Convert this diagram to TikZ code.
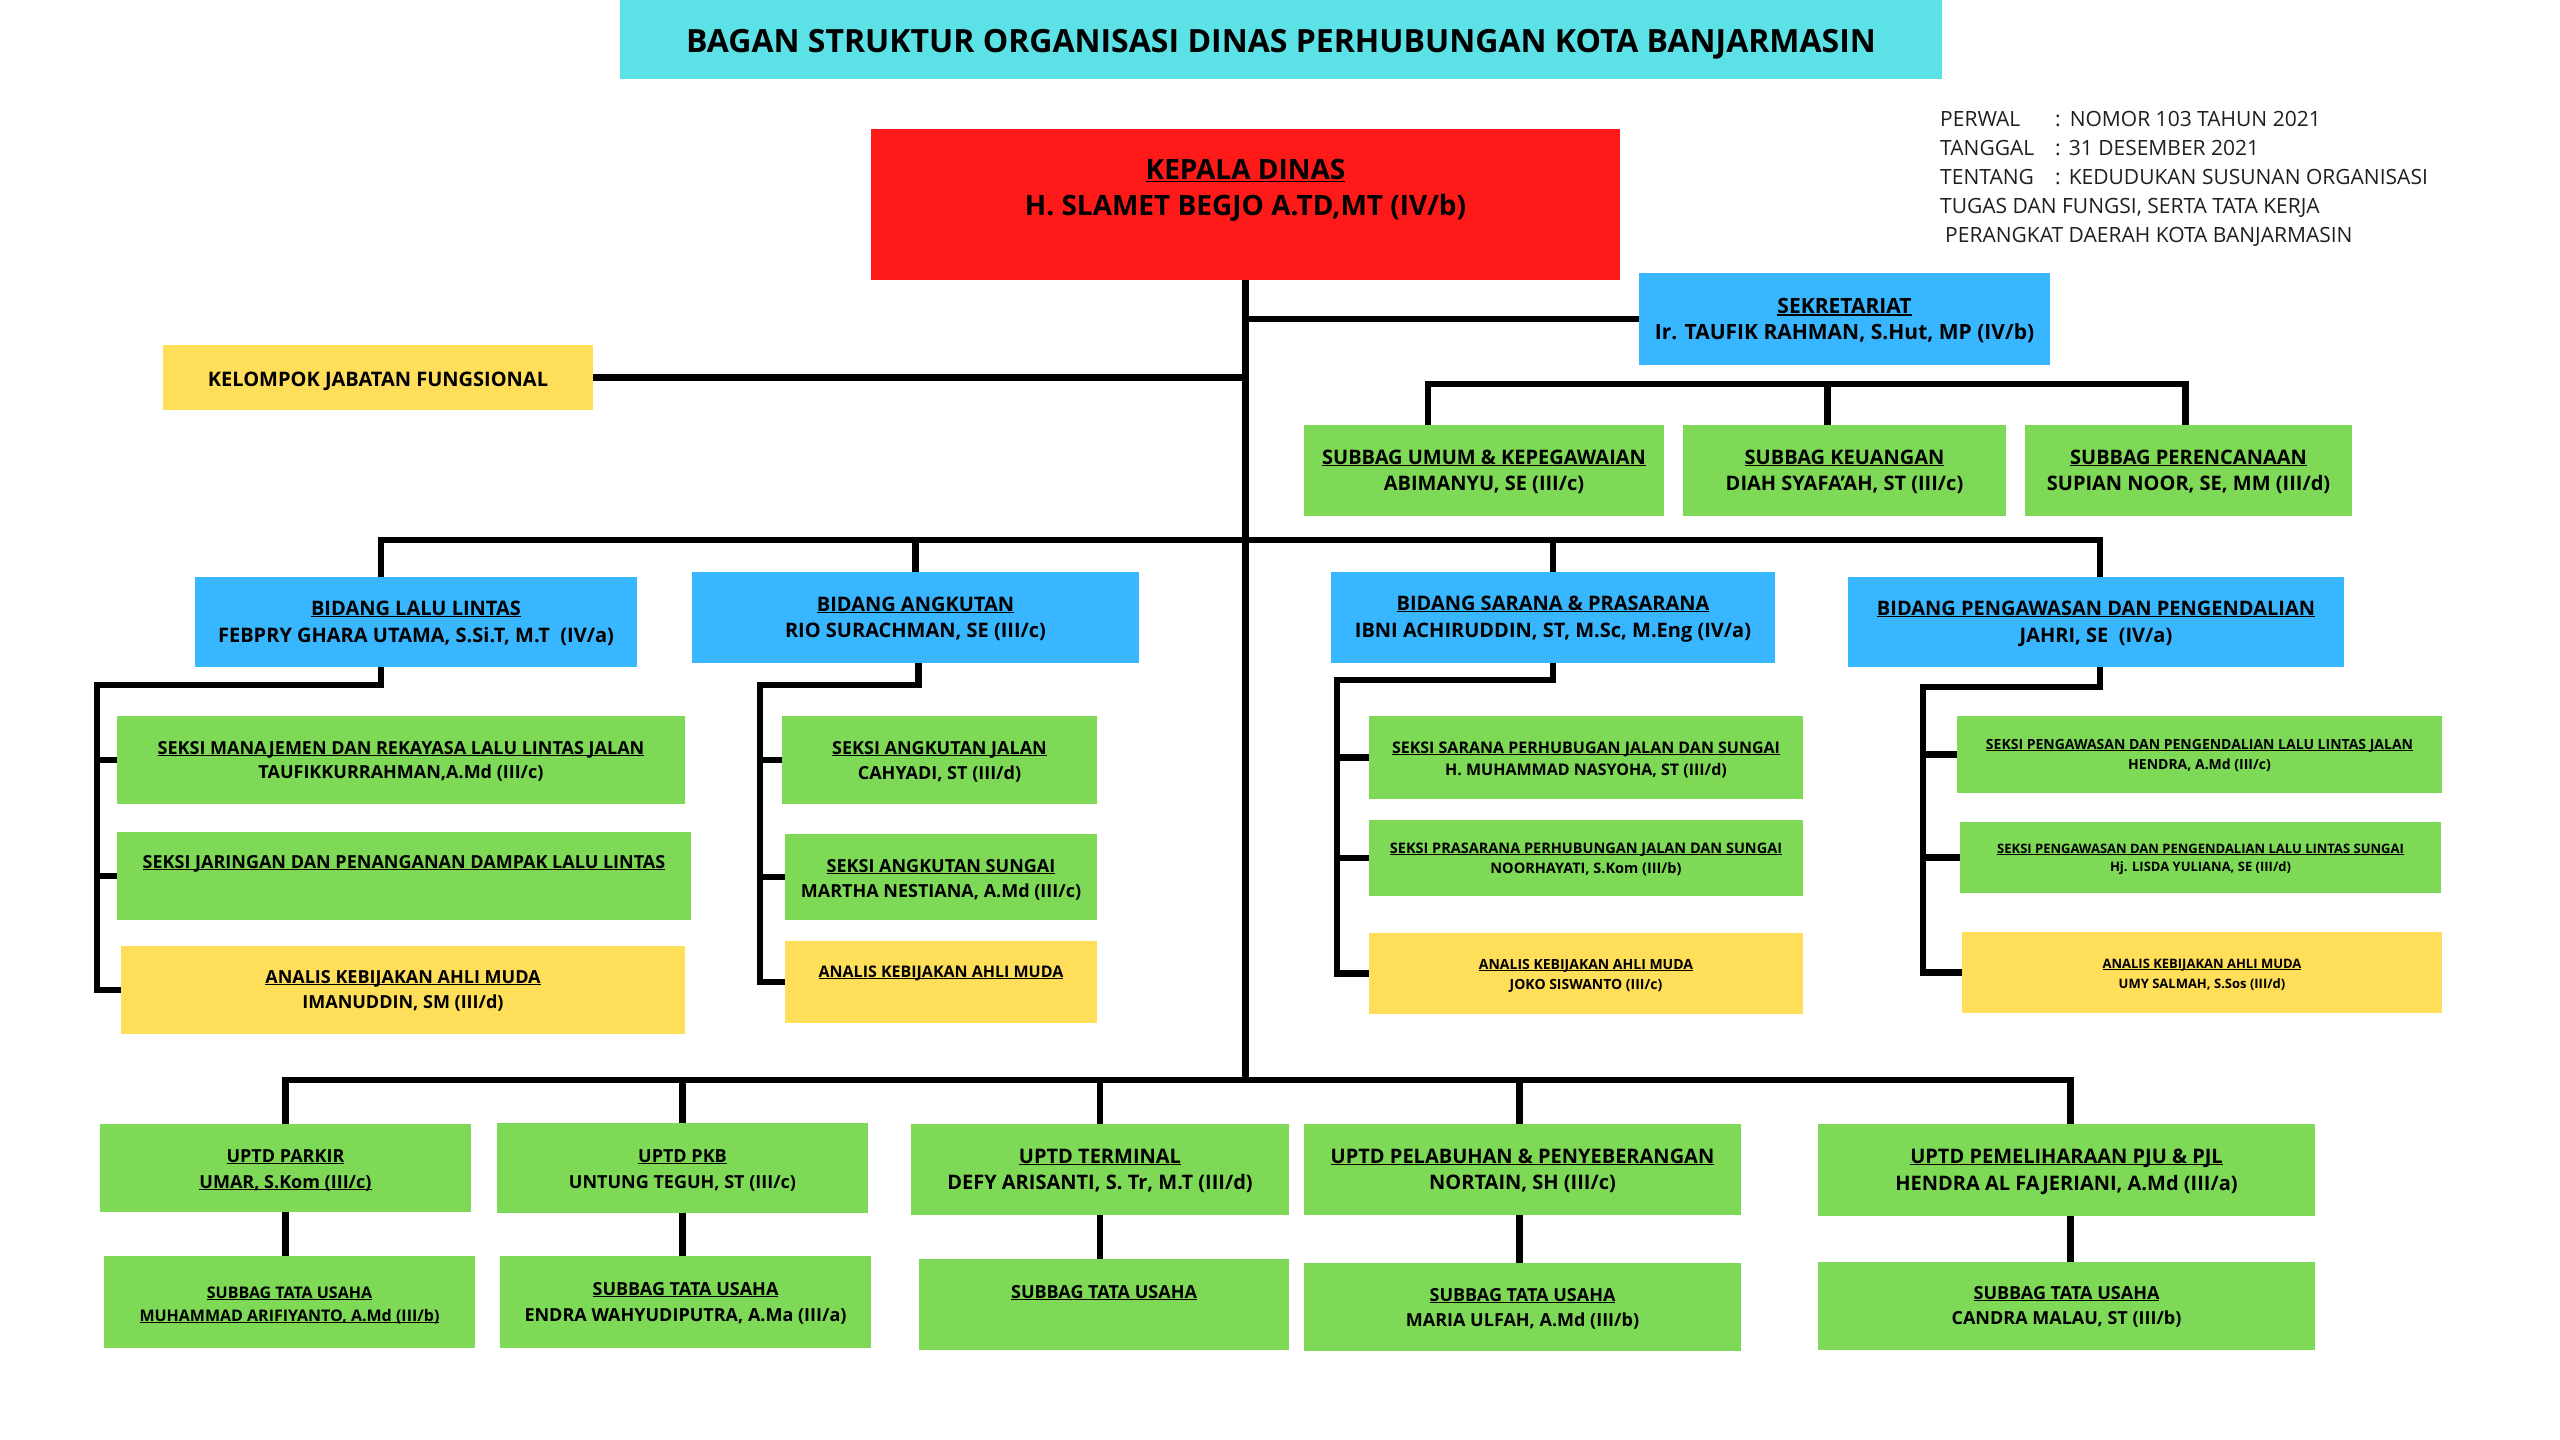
\documentclass[tikz,border=0pt]{standalone}
\usepackage{fontspec}
\setmainfont{Open Sans}
\usetikzlibrary{calc}
\definecolor{cTitle}{HTML}{5CE1E6}
\definecolor{cRed}{HTML}{FF1A1A}
\definecolor{cBlue}{HTML}{38B6FF}
\definecolor{cGreen}{HTML}{7ED957}
\definecolor{cYellow}{HTML}{FFDE59}
\newcommand{\ulx}[1]{\leavevmode\setbox0=\hbox{#1}\rlap{\rule[-0.12em]{\wd0}{0.065em}}\box0}
\tikzset{
  boxst/.style={inner sep=0pt, outer sep=0pt, text=black},
  conn/.style={line width=6.5pt, line join=miter, draw=black}
}
% name, x1, y1, x2, y2, colour, {size}{skip}, first baseline y, text
\newcommand{\bx}[9]{%
  \node[boxst, fill=#6, anchor=north west] (#1) at (#2,#3)
  {\parbox[t][\dimexpr#5pt-#3pt\relax][t]{\dimexpr#4pt-#2pt\relax}{\centering\fontsize#7\selectfont\bfseries\rule{0pt}{\dimexpr#8pt-#3pt\relax}#9\par}};}
\begin{document}
\begin{tikzpicture}[x=1pt,y=-1pt]
\useasboundingbox (0,0) rectangle (2560,1440);
\fill[white] (0,0) rectangle (2560,1440);

% ---- boxes
\bx{title}{620}{0}{1942}{79}{cTitle}{{32pt}{38pt}}{52}{BAGAN STRUKTUR ORGANISASI DINAS PERHUBUNGAN KOTA BANJARMASIN}
\bx{kepala}{871}{129}{1620}{280}{cRed}{{28pt}{36pt}}{179}{\ulx{KEPALA DINAS}\\H. SLAMET BEGJO A.TD,MT (IV/b)}
\bx{sek}{1639}{273}{2050}{365}{cBlue}{{21pt}{26pt}}{313}{\ulx{SEKRETARIAT}\\Ir. TAUFIK RAHMAN, S.Hut, MP (IV/b)}
\bx{kjf}{163}{345}{593}{410}{cYellow}{{20pt}{24pt}}{386}{KELOMPOK JABATAN FUNGSIONAL}

\bx{umum}{1304}{425}{1664}{516}{cGreen}{{20pt}{26pt}}{464}{\ulx{SUBBAG UMUM \& KEPEGAWAIAN}\\ABIMANYU, SE (III/c)}
\bx{keu}{1683}{425}{2006}{516}{cGreen}{{20pt}{26pt}}{464}{\ulx{SUBBAG KEUANGAN}\\DIAH SYAFA'AH, ST (III/c)}
\bx{renc}{2025}{425}{2352}{516}{cGreen}{{20pt}{26pt}}{464}{\ulx{SUBBAG PERENCANAAN}\\SUPIAN NOOR, SE, MM (III/d)}

\bx{bll}{195}{577}{637}{667}{cBlue}{{20pt}{27pt}}{615}{\ulx{BIDANG LALU LINTAS}\\FEBPRY GHARA UTAMA, S.Si.T, M.T\ \ (IV/a)}
\bx{ba}{692}{572}{1139}{663}{cBlue}{{20pt}{26pt}}{611}{\ulx{BIDANG ANGKUTAN}\\RIO SURACHMAN, SE (III/c)}
\bx{bs}{1331}{572}{1775}{663}{cBlue}{{20pt}{27pt}}{610}{\ulx{BIDANG SARANA \& PRASARANA}\\IBNI ACHIRUDDIN, ST, M.Sc, M.Eng (IV/a)}
\bx{bp}{1848}{577}{2344}{667}{cBlue}{{20pt}{27pt}}{615}{\ulx{BIDANG PENGAWASAN DAN PENGENDALIAN}\\JAHRI, SE\ \ (IV/a)}

\bx{sm}{117}{716}{685}{804}{cGreen}{{18pt}{24pt}}{754}{\ulx{SEKSI MANAJEMEN DAN REKAYASA LALU LINTAS JALAN}\\TAUFIKKURRAHMAN,A.Md (III/c)}
\bx{sj}{117}{832}{691}{920}{cGreen}{{18pt}{24pt}}{868}{\ulx{SEKSI JARINGAN DAN PENANGANAN DAMPAK LALU LINTAS}}
\bx{al}{121}{946}{685}{1034}{cYellow}{{18pt}{25pt}}{983}{\ulx{ANALIS KEBIJAKAN AHLI MUDA}\\IMANUDDIN, SM (III/d)}

\bx{saj}{782}{716}{1097}{804}{cGreen}{{18pt}{25pt}}{754}{\ulx{SEKSI ANGKUTAN JALAN}\\CAHYADI, ST (III/d)}
\bx{sas}{785}{834}{1097}{920}{cGreen}{{18pt}{25pt}}{872}{\ulx{SEKSI ANGKUTAN SUNGAI}\\MARTHA NESTIANA, A.Md (III/c)}
\bx{aa}{785}{941}{1097}{1023}{cYellow}{{16pt}{24pt}}{977}{\ulx{ANALIS KEBIJAKAN AHLI MUDA}}

\bx{ss}{1369}{716}{1803}{799}{cGreen}{{16pt}{22pt}}{753}{\ulx{SEKSI SARANA PERHUBUGAN JALAN DAN SUNGAI}\\H. MUHAMMAD NASYOHA, ST (III/d)}
\bx{sp}{1369}{820}{1803}{896}{cGreen}{{14.5pt}{20pt}}{853}{\ulx{SEKSI PRASARANA PERHUBUNGAN JALAN DAN SUNGAI}\\NOORHAYATI, S.Kom (III/b)}
\bx{as}{1369}{933}{1803}{1014}{cYellow}{{14pt}{20pt}}{969}{\ulx{ANALIS KEBIJAKAN AHLI MUDA}\\JOKO SISWANTO (III/c)}

\bx{spj}{1957}{716}{2442}{793}{cGreen}{{14pt}{20pt}}{749}{\ulx{SEKSI PENGAWASAN DAN PENGENDALIAN LALU LINTAS JALAN}\\HENDRA, A.Md (III/c)}
\bx{sps}{1960}{822}{2441}{893}{cGreen}{{13pt}{18pt}}{853}{\ulx{SEKSI PENGAWASAN DAN PENGENDALIAN LALU LINTAS SUNGAI}\\Hj. LISDA YULIANA, SE (III/d)}
\bx{ap}{1962}{932}{2442}{1013}{cYellow}{{13pt}{20pt}}{968}{\ulx{ANALIS KEBIJAKAN AHLI MUDA}\\UMY SALMAH, S.Sos (III/d)}

\bx{parkir}{100}{1124}{471}{1212}{cGreen}{{18pt}{26pt}}{1162}{\ulx{UPTD PARKIR}\\\ulx{UMAR, S.Kom (III/c)}}
\bx{pkb}{497}{1123}{868}{1213}{cGreen}{{18pt}{26pt}}{1162}{\ulx{UPTD PKB}\\UNTUNG TEGUH, ST (III/c)}
\bx{term}{911}{1124}{1289}{1215}{cGreen}{{20pt}{26pt}}{1163}{\ulx{UPTD TERMINAL}\\DEFY ARISANTI, S. Tr, M.T (III/d)}
\bx{pel}{1304}{1124}{1741}{1215}{cGreen}{{20pt}{26pt}}{1163}{\ulx{UPTD PELABUHAN \& PENYEBERANGAN}\\NORTAIN, SH (III/c)}
\bx{pju}{1818}{1124}{2315}{1216}{cGreen}{{20pt}{27pt}}{1163}{\ulx{UPTD PEMELIHARAAN PJU \& PJL}\\HENDRA AL FAJERIANI, A.Md (III/a)}

\bx{tupar}{104}{1256}{475}{1348}{cGreen}{{16pt}{23pt}}{1298}{\ulx{SUBBAG TATA USAHA}\\\ulx{MUHAMMAD ARIFIYANTO, A.Md (III/b)}}
\bx{tupkb}{500}{1256}{871}{1348}{cGreen}{{18pt}{26pt}}{1295}{\ulx{SUBBAG TATA USAHA}\\ENDRA WAHYUDIPUTRA, A.Ma (III/a)}
\bx{tuterm}{919}{1259}{1289}{1350}{cGreen}{{18pt}{26pt}}{1298}{\ulx{SUBBAG TATA USAHA}}
\bx{tupel}{1304}{1263}{1741}{1351}{cGreen}{{18pt}{25pt}}{1301}{\ulx{SUBBAG TATA USAHA}\\MARIA ULFAH, A.Md (III/b)}
\bx{tupju}{1818}{1262}{2315}{1350}{cGreen}{{18pt}{25pt}}{1299}{\ulx{SUBBAG TATA USAHA}\\CANDRA MALAU, ST (III/b)}

% ---- legal reference text (anchored at the baseline of its last line)
\node[inner sep=0pt, anchor=base west, align=left, text=black!88,
      font=\fontsize{21pt}{29pt}\selectfont] (perwal) at (1940,242)
{\makebox[115pt][l]{PERWAL}:\hspace{9pt}NOMOR 103 TAHUN 2021\\
 \makebox[115pt][l]{TANGGAL}:\hspace{8pt}31 DESEMBER 2021\\
 \makebox[115pt][l]{TENTANG}:\hspace{8pt}KEDUDUKAN SUSUNAN ORGANISASI\\
 TUGAS DAN FUNGSI, SERTA TATA KERJA\\
 \hspace{5pt}PERANGKAT DAERAH KOTA BANJARMASIN};

% ---- helper coordinates
\coordinate (busS) at (0,384);
\coordinate (busB) at (0,540);
\coordinate (busU) at (0,1080);
\coordinate (railLL) at (97,685);
\coordinate (railBA) at (760,685);
\coordinate (railBS) at (1337,680);
\coordinate (railBP) at (1923,687);

% ---- connectors
\draw[conn] (kepala.south) -- (kepala.south |- busU);
\draw[conn] (kepala.south |- sek.west) -- (sek.west);
\draw[conn] (kjf.east) -- (kjf.east -| kepala.south);

\draw[conn] ([xshift=-56pt]umum.north) -- ([xshift=-56pt]umum.north |- busS) -| ([xshift=-3pt]renc.north);
\draw[conn] ([xshift=-17pt]keu.north) -- ([xshift=-17pt]keu.north |- busS);

\draw[conn] ([xshift=-35pt]bll.north) -- ([xshift=-35pt]bll.north |- busB) -| ([xshift=4pt]bp.north);
\draw[conn] (ba.north) -- (ba.north |- busB);
\draw[conn] (bs.north) -- (bs.north |- busB);

\draw[conn] ([xshift=-35pt]bll.south) |- (railLL) |- (al.west);
\draw[conn] (railLL |- sm.west) -- (sm.west);
\draw[conn] (railLL |- sj.west) -- (sj.west);

\draw[conn] ([xshift=3pt]ba.south) |- (railBA) |- (aa.west);
\draw[conn] (railBA |- saj.west) -- (saj.west);
\draw[conn] (railBA |- sas.west) -- (sas.west);

\draw[conn] (bs.south) |- (railBS) |- (as.west);
\draw[conn] (railBS |- ss.west) -- (ss.west);
\draw[conn] (railBS |- sp.west) -- (sp.west);

\draw[conn] ([xshift=4pt]bp.south) |- (railBP) |- (ap.west);
\draw[conn] (railBP |- spj.west) -- (spj.west);
\draw[conn] (railBP |- sps.west) -- (sps.west);

\draw[conn] (parkir.north) -- (parkir.north |- busU) -| ([xshift=4pt]pju.north);
\draw[conn] (pkb.north) -- (pkb.north |- busU);
\draw[conn] (term.north) -- (term.north |- busU);
\draw[conn] ([xshift=-3pt]pel.north) -- ([xshift=-3pt]pel.north |- busU);

\draw[conn] (parkir.south) -- (parkir.south |- tupar.north);
\draw[conn] (pkb.south) -- (pkb.south |- tupkb.north);
\draw[conn] (term.south) -- (term.south |- tuterm.north);
\draw[conn] ([xshift=-3pt]pel.south) -- ([xshift=-3pt]pel.south |- tupel.north);
\draw[conn] ([xshift=4pt]pju.south) -- ([xshift=4pt]pju.south |- tupju.north);
\end{tikzpicture}
\end{document}
